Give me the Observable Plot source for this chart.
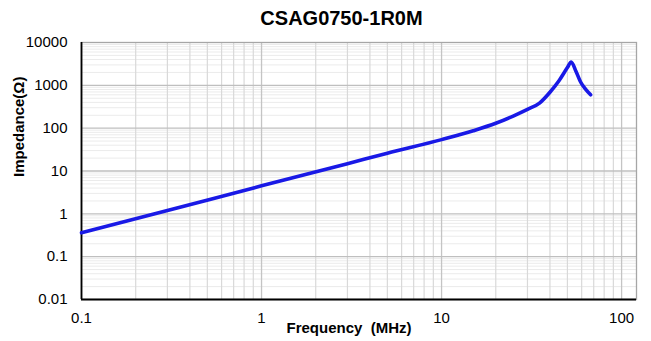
<!DOCTYPE html>
<html>
<head>
<meta charset="utf-8">
<script src="https://cdn.jsdelivr.net/npm/d3@7"></script>
<script src="https://cdn.jsdelivr.net/npm/@observablehq/plot@0.6"></script>
<style>
  html, body { margin: 0; padding: 0; background: #fff; }
  body { width: 651px; height: 341px; overflow: hidden; font-family: "Liberation Sans", Arial, sans-serif; }
  #title { height: 34px; box-sizing: border-box; padding-top: 8px; font-size: 20px; line-height: 20px; font-weight: bold; text-align: center; color: #000; position: relative; left: 16px; }
  svg { display: block; }
</style>
</head>
<body>
<div id="title">CSAG0750-1R0M</div>
<div id="chart"></div>
<script>
// Data
const chartTitle = "CSAG0750-1R0M";
const xLabel = "Frequency\u00a0 (MHz)";
const yLabel = "Impedance(Ω)";
const freq      = [0.1, 0.3, 1, 3, 5, 10, 15, 20, 25, 30, 35, 40, 45, 50, 52.5, 55.6, 59.3, 63.2, 67.3];
const impedance = [0.36, 1.19, 4.5, 14.8, 26, 54, 87, 130, 192, 275, 385, 690, 1300, 2600, 3500, 2200, 1180, 800, 600];
const xTicks = [0.1, 1, 10, 100];
const yTicks = [0.01, 0.1, 1, 10, 100, 1000, 10000];
const minorSteps = [2, 3, 4, 5, 6, 7, 8, 9];

const data = freq.map((f, i) => ({f, z: impedance[i]}));
const xMinor = xTicks.slice(0, -1).flatMap(d => minorSteps.map(m => +(d * m).toPrecision(3)));
const xMajor = xTicks.slice(1);
const yMinor = yTicks.slice(0, -1).flatMap(d => minorSteps.map(m => +(d * m).toPrecision(3)));
const yMajor = yTicks.slice(1, -1);

const chart = Plot.plot({
  width: 651,
  height: 307,
  marginTop: 8,
  marginBottom: 42,
  marginLeft: 81,
  marginRight: 15,
  style: {fontFamily: "'Liberation Sans', Arial, sans-serif", background: "#fff", color: "#000"},
  x: {type: "log", domain: [0.1, 121]},
  y: {type: "log", domain: [0.01, 10000]},
  marks: [
    Plot.ruleY(yMinor, {stroke: "#ebebeb", strokeWidth: 1}),
    Plot.ruleX(xMinor, {stroke: "#d9d9d9", strokeWidth: 1.2}),
    Plot.ruleX(xMajor, {stroke: "#c4c4c4", strokeWidth: 1.3}),
    Plot.ruleY(yMajor, {stroke: "#bfbfbf", strokeWidth: 1.3}),
    Plot.frame({stroke: "#a6a6a6", strokeWidth: 1.3}),
    Plot.axisX(xTicks, {tickSize: 0, tickPadding: 13, fontSize: 15, tickFormat: d => String(d), label: null, stroke: null}),
    Plot.axisY(yTicks, {tickSize: 0, tickPadding: 14, fontSize: 15, tickFormat: d => String(d), label: null}),
    Plot.ruleX([0.1], {stroke: "#000", strokeWidth: 1.8}),
    Plot.ruleY([0.01], {stroke: "#000", strokeWidth: 1.8}),
    Plot.line(data, {x: "f", y: "z", stroke: "#1919e6", strokeWidth: 3.6, curve: "monotone-x", strokeLinecap: "round", strokeLinejoin: "round"}),
    Plot.text([xLabel], {frameAnchor: "bottom", dy: 29, dx: -10, lineAnchor: "middle", fontSize: 15, fontWeight: "bold", text: d => d}),
    Plot.text([yLabel], {frameAnchor: "left", dx: -62, dy: 6, rotate: -90, lineAnchor: "middle", fontSize: 15, fontWeight: "bold", text: d => d})
  ]
});
document.getElementById("chart").appendChild(chart);
</script>
</body>
</html>
